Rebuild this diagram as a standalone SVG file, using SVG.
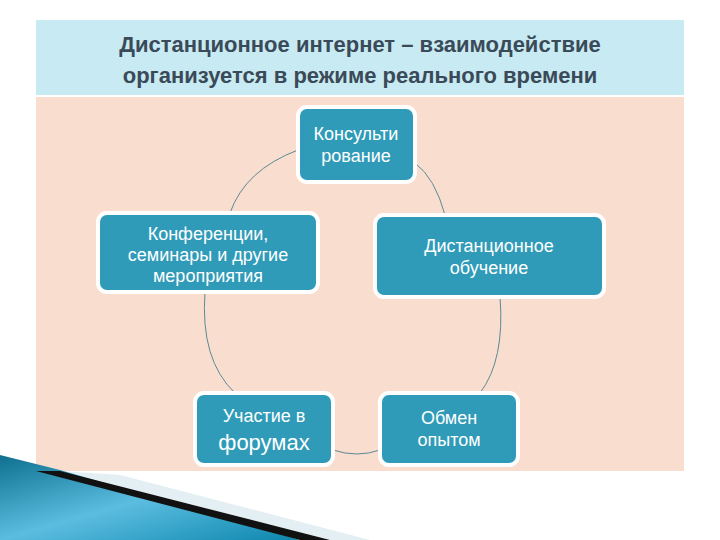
<svg xmlns="http://www.w3.org/2000/svg" width="720" height="540" viewBox="0 0 720 540">
<defs>
<style>
.n{fill:#2f9bb8;stroke:#fff;stroke-width:4}
.t{font-family:"Liberation Sans",Arial,sans-serif;fill:#fff;text-anchor:middle;font-size:18px}
.c{fill:none;stroke:#5b8a95;stroke-width:1}
</style>
<linearGradient id="g" x1="0" y1="0" x2="1" y2="1"><stop offset="0" stop-color="#0e6f8f"/><stop offset="0.5" stop-color="#5bbde0"/><stop offset="1" stop-color="#0d86ad"/></linearGradient>
</defs>
<rect width="720" height="540" fill="#fff"/>
<rect x="36" y="20" width="648" height="75" fill="#c8eaf3"/>
<rect x="36" y="97" width="648" height="374" fill="#f9ddce"/>
<text x="360" y="52" font-family="Liberation Sans,Arial,sans-serif" font-weight="bold" font-size="22" fill="#3a4a58" text-anchor="middle">Дистанционное интернет – взаимодействие</text>
<text x="360" y="83" font-family="Liberation Sans,Arial,sans-serif" font-weight="bold" font-size="22" fill="#3a4a58" text-anchor="middle">организуется в режиме реального времени</text>
<polygon points="60,471 330,540 370,540 120,475" fill="#e3eff3"/>
<polygon points="0,455 0,540 300,540 60,470" fill="url(#g)"/>
<polygon points="36,471 300,540 330,540 60,471" fill="#111"/>
<g id="connectors">
<path class="c" d="M298,150 Q245,170 230,213"/>
<path class="c" d="M415,163 Q435,178 445,215"/>
<path class="c" d="M205,292 Q200,360 235,393"/>
<path class="c" d="M500,297 Q505,360 480,393"/>
<path class="c" d="M333,450 Q357,458 380,450"/>
</g>
<g id="n1"><rect class="n" x="298" y="107" width="117" height="75" rx="9"/><text class="t" x="356" y="140">Консульти</text><text class="t" x="356" y="162">рование</text></g>
<g id="n2"><rect class="n" x="98" y="213" width="220" height="79" rx="9"/><text class="t" x="208" y="240">Конференции,</text><text class="t" x="208" y="261">семинары и другие</text><text class="t" x="208" y="282">мероприятия</text></g>
<g id="n3"><rect class="n" x="375" y="215" width="229" height="82" rx="9"/><text class="t" x="489" y="252">Дистанционное</text><text class="t" x="489" y="274">обучение</text></g>
<g id="n4"><rect class="n" x="195" y="393" width="138" height="72" rx="9"/><text class="t" x="264" y="422">Участие в</text><text class="t" x="264" y="450" style="font-size:22px">форумах</text></g>
<g id="n5"><rect class="n" x="380" y="393" width="138" height="72" rx="9"/><text class="t" x="449" y="424">Обмен</text><text class="t" x="449" y="446">опытом</text></g>
</svg>
